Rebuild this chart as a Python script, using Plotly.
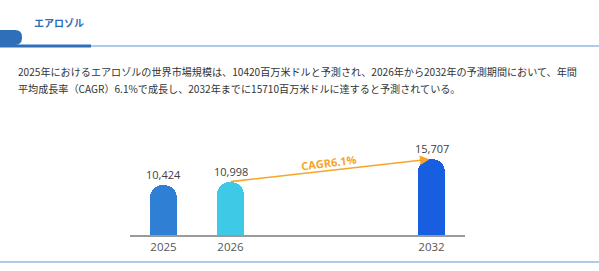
import plotly.graph_objects as go

# ---- data ----
title_text = "エアロゾル"
para_line1 = "2025年におけるエアロゾルの世界市場規模は、10420百万米ドルと予測され、2026年から2032年の予測期間において、年間"
para_line2 = "平均成長率（CAGR）6.1%で成長し、2032年までに15710百万米ドルに達すると予測されている。"
years = ["2025", "2026", "2032"]
values = [10424, 10998, 15707]
bar_colors = ["#2f80d4", "#3ec9e6", "#175ee0"]
cagr_label = "CAGR6.1%"
slots = ["2025", "2026", "", "", "2032"]  # axis slots (gap between 2026 and 2032)

# ---- layout geometry (pixels) ----
W, H = 599, 271
L, R = 130, 465          # plot area x
TOP, BASE = 100, 235     # plot area y
ml, mr, mt, mb = L, W - R, TOP, H - BASE

def px(x):
    return (x - L) / (R - L)

def py(y):
    return (BASE - y) / (BASE - TOP)

xs = [slots.index(y) for y in years]
ymax = (BASE - TOP) * 15707 / 76.0

JP = "Noto Sans CJK JP"
NUM = "Open Sans, Noto Sans CJK JP"

fig = go.Figure()
fig.add_trace(go.Bar(
    x=xs, y=values, width=0.39,
    marker=dict(color=bar_colors, cornerradius=13, line=dict(width=0)),
    hoverinfo="skip", showlegend=False,
))

ann = []
# value labels
for x, v in zip(xs, values):
    ann.append(dict(x=x, y=v, xref="x", yref="y", text=f"{v:,}", showarrow=False,
                    yanchor="bottom", yshift=1, font=dict(family=NUM, size=11, color="#404040")))
# CAGR arrow
ann.append(dict(x=xs[2], y=values[2], ax=xs[1] - 0.02, ay=values[1], xref="x", yref="y",
                axref="x", ayref="y", text="", showarrow=True, arrowhead=2, arrowsize=1.2,
                arrowwidth=1.6, arrowcolor="#f7a52a", standoff=2))
ann.append(dict(x=px(329), y=py(162), xref="paper", yref="paper", text=f"<b>{cagr_label}</b>",
                showarrow=False, textangle=-7, font=dict(family=NUM, size=11, color="#f7a52a")))
# header title
ann.append(dict(x=px(32), y=py(22), xref="paper", yref="paper", text=f"<b>{title_text}</b>",
                showarrow=False, xanchor="left", yanchor="middle",
                font=dict(family=JP, size=10, color="#2c6db8")))
# paragraph
ann.append(dict(x=px(16), y=py(72), xref="paper", yref="paper", text=para_line1,
                showarrow=False, xanchor="left", yanchor="middle",
                font=dict(family=JP, size=10.1, color="#333333")))
ann.append(dict(x=px(16), y=py(88), xref="paper", yref="paper", text=para_line2,
                showarrow=False, xanchor="left", yanchor="middle",
                font=dict(family=JP, size=10.1, color="#333333")))

shapes = [
    # light header rule
    dict(type="rect", xref="paper", yref="paper", x0=px(88), x1=px(W), y0=py(47), y1=py(45),
         fillcolor="#aecbea", line=dict(width=0), layer="above"),
    # dark header rule
    dict(type="rect", xref="paper", yref="paper", x0=px(0), x1=px(91), y0=py(47.5), y1=py(44.5),
         fillcolor="#2f6eb9", line=dict(width=0), layer="above"),
    # header tab (rounded right)
    dict(type="path", xref="paper", yref="paper",
         path=(f"M {px(0)},{py(30)} L {px(15)},{py(30)} "
               f"Q {px(22)},{py(30)} {px(22)},{py(37)} "
               f"L {px(22)},{py(38)} Q {px(22)},{py(45)} {px(15)},{py(45)} "
               f"L {px(0)},{py(45)} Z"),
         fillcolor="#2f6eb9", line=dict(width=0), layer="above"),
    # bottom rule
    dict(type="rect", xref="paper", yref="paper", x0=px(0), x1=px(W), y0=py(263), y1=py(261),
         fillcolor="#aecbea", line=dict(width=0), layer="above"),
]

fig.update_layout(
    width=W, height=H,
    margin=dict(l=ml, r=mr, t=mt, b=mb, pad=0),
    paper_bgcolor="white", plot_bgcolor="white",
    xaxis=dict(range=[-0.5, 4.5], tickvals=xs, ticktext=years, showgrid=False, zeroline=False,
               showline=True, linecolor="#9a9a9a", linewidth=1.5, ticks="",
               tickfont=dict(family=NUM, size=11.5, color="#555555"), fixedrange=True),
    yaxis=dict(range=[0, ymax], visible=False, fixedrange=True),
    annotations=ann, shapes=shapes,
    bargap=0,
)

fig.write_html("out.html", config={"displayModeBar": False})
